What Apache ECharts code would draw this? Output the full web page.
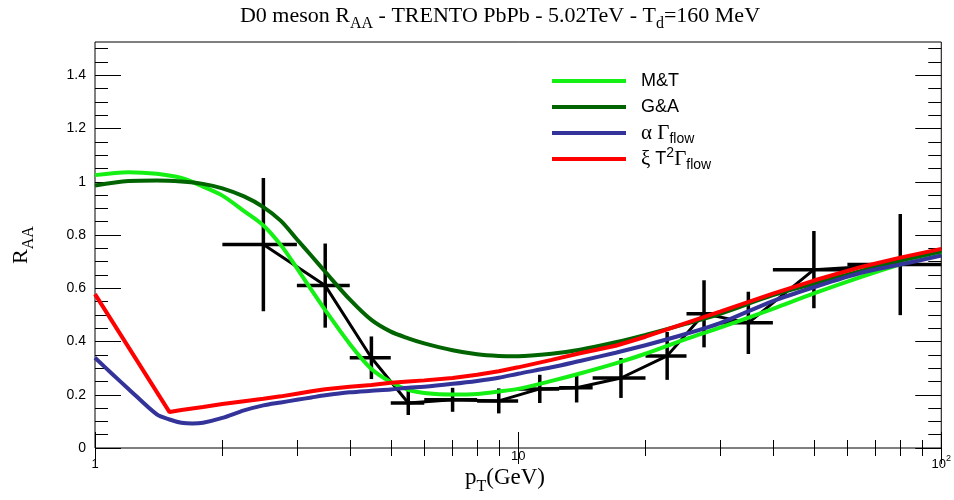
<!DOCTYPE html>
<html>
<head>
<meta charset="utf-8">
<script src="https://cdn.jsdelivr.net/npm/echarts@6/dist/echarts.min.js"></script>
<style>
html,body{margin:0;padding:0;background:#fff;}
#chart{width:954px;height:500px;}
</style>
</head>
<body>
<div id="chart"></div>
<script>
// ---- data points (black) ----
const ptData  = [2.5, 3.5, 4.5, 5.5, 7, 9, 11.25, 13.75, 17.5, 22.5, 27.5, 35, 50, 80];
const ptLow   = [2, 3, 4, 5, 6, 8, 10, 12.5, 15, 20, 25, 30, 40, 60];
const ptHigh  = [3, 4, 5, 6, 8, 10, 12.5, 15, 20, 25, 30, 40, 60, 100];
const raa     = [0.764, 0.610, 0.339, 0.169, 0.181, 0.177, 0.222, 0.226, 0.263, 0.346, 0.504, 0.470, 0.670, 0.689];
const raaErr  = [0.25, 0.158, 0.08, 0.045, 0.045, 0.047, 0.053, 0.055, 0.075, 0.09, 0.126, 0.117, 0.145, 0.19];

// ---- model curves ----
const ptMT = [1, 1.2, 1.4, 1.6, 1.8, 2, 2.25, 2.5, 2.75, 3, 3.25, 3.5, 4, 4.5, 5, 5.5, 6, 7, 8, 9, 10, 12, 14, 17, 20, 25, 30, 40, 50, 65, 80, 100];
const rMT  = [1.025, 1.036, 1.030, 1.014, 0.982, 0.948, 0.890, 0.836, 0.762, 0.676, 0.593, 0.518, 0.391, 0.297, 0.248, 0.218, 0.207, 0.201, 0.203, 0.212, 0.222, 0.252, 0.280, 0.318, 0.354, 0.410, 0.452, 0.523, 0.581, 0.644, 0.690, 0.735];

const ptGA = [1, 1.2, 1.4, 1.6, 1.8, 2, 2.25, 2.5, 2.75, 3, 3.25, 3.5, 4, 4.5, 5, 5.5, 6, 7, 8, 9, 10, 12, 14, 17, 20, 25, 30, 40, 50, 65, 80, 100];
const rGA  = [0.986, 1.003, 1.005, 1.001, 0.992, 0.975, 0.945, 0.905, 0.853, 0.784, 0.721, 0.662, 0.558, 0.481, 0.437, 0.412, 0.393, 0.367, 0.352, 0.346, 0.345, 0.354, 0.369, 0.397, 0.425, 0.467, 0.504, 0.574, 0.617, 0.666, 0.704, 0.739];

const ptAlpha = [1, 1.1, 1.2, 1.4, 1.5, 1.6, 1.7, 1.8, 2, 2.25, 2.5, 2.75, 3, 3.25, 3.5, 4, 4.5, 5, 5.5, 6, 7, 8, 9, 10, 12, 14, 17, 20, 25, 30, 40, 50, 65, 80, 100];
const rAlpha  = [0.339, 0.277, 0.222, 0.126, 0.107, 0.095, 0.092, 0.095, 0.113, 0.141, 0.160, 0.171, 0.181, 0.190, 0.198, 0.209, 0.215, 0.220, 0.226, 0.230, 0.241, 0.252, 0.264, 0.279, 0.303, 0.327, 0.358, 0.386, 0.429, 0.469, 0.552, 0.604, 0.659, 0.689, 0.723];

const ptXi = [1, 1.5, 1.6, 1.8, 2, 2.25, 2.5, 2.75, 3, 3.25, 3.5, 4, 4.5, 5, 5.5, 6, 7, 8, 9, 10, 12, 14, 17, 20, 25, 30, 40, 50, 65, 80, 100];
const rXi  = [0.578, 0.135, 0.143, 0.154, 0.165, 0.176, 0.185, 0.194, 0.204, 0.213, 0.221, 0.230, 0.237, 0.245, 0.250, 0.254, 0.263, 0.275, 0.288, 0.303, 0.331, 0.356, 0.384, 0.418, 0.470, 0.512, 0.580, 0.629, 0.681, 0.715, 0.748];

// ---- ticks ----
const xMajorTicks = [1, 10, 100];
const xMinorTicks = [2, 3, 4, 5, 6, 7, 8, 9, 20, 30, 40, 50, 60, 70, 80, 90];
const yMajorTicks = [0, 0.2, 0.4, 0.6, 0.8, 1, 1.2, 1.4];
const yMinorTicks = [0.05, 0.1, 0.15, 0.25, 0.3, 0.35, 0.45, 0.5, 0.55, 0.65, 0.7, 0.75, 0.85, 0.9, 0.95, 1.05, 1.1, 1.15, 1.25, 1.3, 1.35, 1.45, 1.5];
const yMin = 0, yMax = 1.525, xMin = 1, xMax = 100;

const SERIF = 'Liberation Serif';
const SANS = 'Liberation Sans';

const chart = echarts.init(document.getElementById('chart'), null, {renderer: 'canvas'});

function xAxisDef(pos, major) {
  return {
    type: 'log', logBase: 10, min: xMin, max: xMax, position: pos, gridIndex: 0,
    axisLine: {show: false},
    splitLine: {show: false},
    axisTick: {show: true, inside: true, length: major ? 16 : 8, customValues: major ? xMajorTicks : xMinorTicks,
      lineStyle: {color: '#000', width: 1}},
    axisLabel: (pos === 'bottom' && major) ? {
      show: true, customValues: xMajorTicks, margin: 2, color: '#000',
      fontFamily: SANS, fontSize: 13,
      formatter: function (v) {
        if (Math.abs(v - 1) < 1e-9) return '{d|1}';
        if (Math.abs(v - 10) < 1e-9) return '{n|10}';
        return '{d|10}{s|2}';
      },
      rich: {
        d: {fontFamily: SANS, fontSize: 13, padding: [8, 0, 0, 0], color: '#000'},
        n: {fontFamily: SANS, fontSize: 13, color: '#000'},
        s: {fontFamily: SANS, fontSize: 9, verticalAlign: 'top', padding: [4, 0, 0, 0], color: '#000'}
      }
    } : {show: false}
  };
}
function yAxisDef(pos, major) {
  return {
    type: 'value', min: yMin, max: yMax, position: pos, gridIndex: 0,
    axisLine: {show: false},
    splitLine: {show: false},
    axisTick: {show: true, inside: true, length: major ? 26 : 13, customValues: major ? yMajorTicks : yMinorTicks,
      lineStyle: {color: '#000', width: 1}},
    axisLabel: (pos === 'left' && major) ? {
      show: true, customValues: yMajorTicks, margin: 9, color: '#000',
      fontFamily: SANS, fontSize: 14
    } : {show: false}
  };
}

const errData = ptData.map((p, i) => [p, raa[i], ptLow[i], ptHigh[i], raaErr[i]]);

const legendLabels = {
  'M&T': '{tf|M&T}',
  'G&A': '{tf|G&A}',
  'alpha': '{gf|α}{g| Γ}{sub|flow}',
  'xi': '{gf|ξ}{t| T}{sup|2}{g|Γ}{sub|flow}'
};

function curve(name, xs, ys, color, smooth) {
  return {
    name: name, type: 'line', xAxisIndex: 0, yAxisIndex: 0,
    data: xs.map((p, i) => [p, ys[i]]), showSymbol: false, symbol: 'none',
    smooth: smooth,
    color: color, lineStyle: {color: color, width: 4}, z: 3
  };
}

const option = {
  animation: false,
  backgroundColor: '#fff',
  grid: {left: 95, right: 11, top: 42, bottom: 52, show: true, borderColor: '#000', borderWidth: 1, backgroundColor: 'transparent'},
  xAxis: [xAxisDef('bottom', true), xAxisDef('bottom', false), xAxisDef('top', true), xAxisDef('top', false)],
  yAxis: [yAxisDef('left', true), yAxisDef('left', false), yAxisDef('right', true), yAxisDef('right', false)],
  legend: {
    show: true, orient: 'vertical', left: 552, top: 68, padding: 0, itemGap: 0,
    itemWidth: 74, itemHeight: 4, icon: 'rect', selectedMode: false,
    data: ['M&T', 'G&A', 'alpha', 'xi'],
    formatter: function (name) { return legendLabels[name]; },
    textStyle: {
      color: '#000', fontFamily: SANS, fontSize: 18, lineHeight: 26,
      rich: {
        tf: {fontFamily: SANS, fontSize: 18, lineHeight: 26, padding: [0, 0, 0, 10], color: '#000'},
        t: {fontFamily: SANS, fontSize: 18, lineHeight: 26, color: '#000'},
        gf: {fontFamily: SERIF, fontSize: 21, lineHeight: 26, padding: [0, 0, 0, 10], color: '#000'},
        g: {fontFamily: SERIF, fontSize: 21, lineHeight: 26, color: '#000'},
        sub: {fontFamily: SANS, fontSize: 14, lineHeight: 14, verticalAlign: 'bottom', color: '#000'},
        sup: {fontFamily: SANS, fontSize: 14, lineHeight: 14, verticalAlign: 'top', color: '#000'}
      }
    }
  },
  graphic: [
    {
      type: 'text', x: 500, y: 0,
      style: {
        text: '{a|D0 meson R}{s|AA}{a| - TRENTO PbPb - 5.02TeV - T}{s|d}{a|=160 MeV}',
        align: 'center', verticalAlign: 'top',
        rich: {
          a: {fontFamily: SERIF, fontSize: 22, lineHeight: 32, fill: '#000'},
          s: {fontFamily: SERIF, fontSize: 16, lineHeight: 16, verticalAlign: 'bottom', fill: '#000'}
        }
      }
    },
    {
      type: 'text', x: 505, y: 461,
      style: {
        text: '{a|p}{s|T}{a|(GeV)}',
        align: 'center', verticalAlign: 'top',
        rich: {
          a: {fontFamily: SERIF, fontSize: 23, lineHeight: 34, fill: '#000'},
          s: {fontFamily: SERIF, fontSize: 16, lineHeight: 16, verticalAlign: 'bottom', fill: '#000'}
        }
      }
    },
    {
      type: 'text', x: 21, y: 245, rotation: Math.PI / 2,
      style: {
        text: '{a|R}{s|AA}',
        align: 'center', verticalAlign: 'middle',
        rich: {
          a: {fontFamily: SERIF, fontSize: 22, lineHeight: 32, fill: '#000'},
          s: {fontFamily: SERIF, fontSize: 16, lineHeight: 16, verticalAlign: 'bottom', fill: '#000'}
        }
      }
    }
  ],
  series: [
    {
      name: 'data-line', type: 'line', xAxisIndex: 0, yAxisIndex: 0,
      data: ptData.map((p, i) => [p, raa[i]]),
      showSymbol: false, symbol: 'none', smooth: false,
      lineStyle: {color: '#000', width: 3}, z: 2, silent: true
    },
    {
      name: 'data-err', type: 'custom', xAxisIndex: 0, yAxisIndex: 0,
      data: errData, encode: {x: 0, y: 1}, z: 2, silent: true,
      renderItem: function (params, api) {
        const x = api.value(0), y = api.value(1), lo = api.value(2), hi = api.value(3), e = api.value(4);
        const pL = api.coord([lo, y]), pH = api.coord([hi, y]);
        const pB = api.coord([x, y - e]), pT = api.coord([x, y + e]);
        const st = {stroke: '#000', lineWidth: 3.5};
        return {type: 'group', children: [
          {type: 'line', shape: {x1: pL[0], y1: pL[1], x2: pH[0], y2: pH[1]}, style: st},
          {type: 'line', shape: {x1: pB[0], y1: pB[1], x2: pT[0], y2: pT[1]}, style: st}
        ]};
      }
    },
    curve('M&T', ptMT, rMT, '#14f014', 0.3),
    curve('G&A', ptGA, rGA, '#006400', 0.3),
    curve('alpha', ptAlpha, rAlpha, '#333399', 0.3),
    curve('xi', ptXi, rXi, '#ff0000', false)
  ]
};
chart.setOption(option);
</script>
</body>
</html>
